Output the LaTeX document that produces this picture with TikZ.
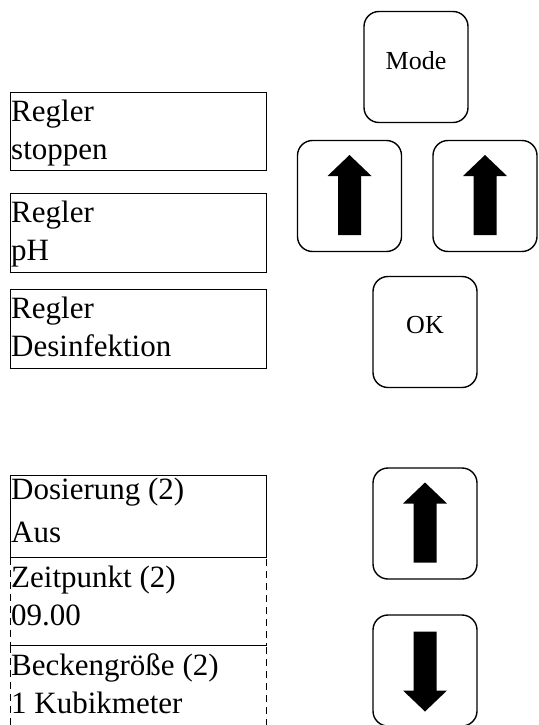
\documentclass[tikz,border=0pt]{standalone}
\usepackage{fontspec}
\setmainfont{Liberation Serif}
\usetikzlibrary{calc}
\tikzset{
  field/.style={draw, line width=1.4pt, minimum width=256pt, inner sep=0pt, anchor=north west},
  dfield/.style={draw, line width=1.2pt, dash pattern=on 7pt off 5pt, minimum width=256pt, inner sep=0pt, anchor=north west},
  ftext/.style={inner sep=0pt, anchor=base west, font=\fontsize{31pt}{38pt}\selectfont},
  btn/.style={draw, line width=1.4pt, rounded corners=15pt, minimum width=104pt, minimum height=111pt, inner sep=0pt},
  btext/.style={inner sep=0pt, font=\fontsize{26pt}{30pt}\selectfont},
  arr/.style={fill=black}
}
\begin{document}
\begin{tikzpicture}[x=1pt,y=-1pt]
\useasboundingbox (0,0) rectangle (538,725);
\clip (0,0) rectangle (538,725);
\fill[white] (0,0) rectangle (538,725);

% left fields (top group)
\node[field, minimum height=78pt] (f1) at (10,92) {};
\node[ftext] (f1a) at ($(f1.north west)+(1,29)$) {Regler};
\node[ftext] (f1b) at ($(f1.north west)+(1,67)$) {stoppen};

\node[field, minimum height=79pt] (f2) at (10,193) {};
\node[ftext] (f2a) at ($(f2.north west)+(1,29)$) {Regler};
\node[ftext] (f2b) at ($(f2.north west)+(1,67)$) {pH};

\node[field, minimum height=79pt] (f3) at (10,289) {};
\node[ftext] (f3a) at ($(f3.north west)+(1,29)$) {Regler};
\node[ftext] (f3b) at ($(f3.north west)+(1,67)$) {Desinfektion};

% left fields (bottom group)
\node[dfield, minimum height=100pt] (f6) at (10,645) {};
\node[ftext] (f6a) at ($(f6.north west)+(1,30)$) {Beckengröße (2)};
\node[ftext] (f6b) at ($(f6.north west)+(1,68)$) {1 Kubikmeter};

\node[dfield, minimum height=88pt] (f5) at (10,557) {};
\node[ftext] (f5a) at ($(f5.north west)+(1,30)$) {Zeitpunkt (2)};
\node[ftext] (f5b) at ($(f5.north west)+(1,68)$) {09.00};

\node[field, minimum height=82pt] (f4) at (10,475) {};
\node[ftext] (f4a) at ($(f4.north west)+(1,24)$) {Dosierung (2)};
\node[ftext] (f4b) at ($(f4.north west)+(1,67)$) {Aus};

% buttons
\node[btn] (mode) at (416,67) {};
\node[btext] (modet) at ([yshift=6pt]mode.center) {Mode};

\node[btn] (upL) at (349.5,196) {};
\node[btn] (upR) at (485,196) {};

\node[btn] (ok) at (425,332) {};
\node[btext] (okt) at ([yshift=6.5pt]ok.center) {OK};

\node[btn] (up2) at (425,523.5) {};
\node[btn] (down) at (425,670.5) {};

% arrows
\foreach \b in {upL,upR,up2}{
  \begin{scope}[shift={(\b.center)}]
    \fill[arr] (0,-41) -- (22,-20) -- (11.5,-20) -- (11.5,39) -- (-11.5,39) -- (-11.5,-20) -- (-22,-20) -- cycle;
  \end{scope}
}
\begin{scope}[shift={(down.center)}]
  \fill[arr] (0,41) -- (22,20) -- (11.5,20) -- (11.5,-39) -- (-11.5,-39) -- (-11.5,20) -- (-22,20) -- cycle;
\end{scope}
\end{tikzpicture}
\end{document}
